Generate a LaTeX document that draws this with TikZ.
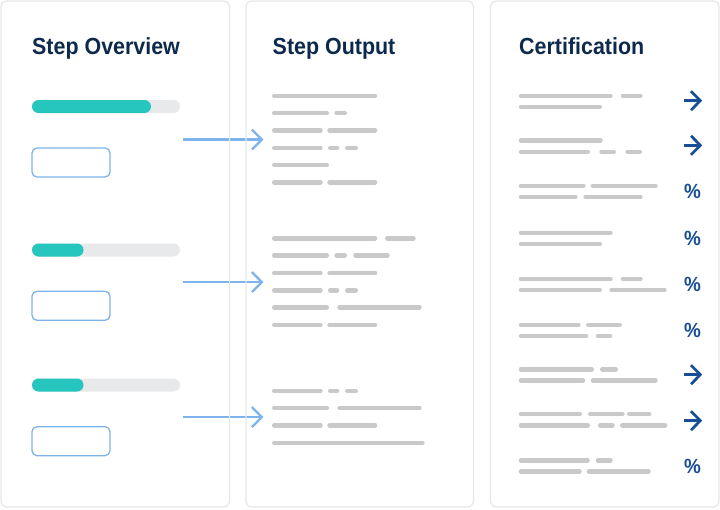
\documentclass[tikz,border=0pt]{standalone}
\usepackage{fontspec}
\setmainfont{Liberation Sans}
\usetikzlibrary{arrows.meta}
\definecolor{navy}{HTML}{0D2A4C}
\definecolor{iconblue}{HTML}{174E96}
\definecolor{teal}{HTML}{26C6BF}
\definecolor{track}{HTML}{E8E9EA}
\definecolor{lblue}{HTML}{7DB4EC}
\definecolor{gbarc}{HTML}{C9C9C9}
\definecolor{panelc}{HTML}{E6E7E8}
\newcommand\grow[2]{\foreach \a/\b in {#2} {\draw[gbar] (\a+2.2,#1) -- (\b-2.2,#1);}}
\newcommand\iconarrow[2]{\draw[icon] (684,#2) -- (700,#2); \draw[icon] (691,#2-9.5) -- (700.3,#2) -- (691,#2+9.5); \coordinate (#1) at (692,#2);}
\begin{document}
\begin{tikzpicture}[x=1pt,y=-1pt,
  panel/.style={draw=panelc,line width=1.2pt,rounded corners=6pt},
  title/.style={anchor=base west,inner sep=0pt,text=navy,font=\bfseries\fontsize{23.3}{24}\selectfont},
  gbar/.style={draw=gbarc,line width=4.4pt,line cap=round},
  outbox/.style={draw=lblue,line width=1.3pt,rounded corners=5pt,minimum width=78pt,minimum height=29pt,inner sep=0pt},
  conn/.style={draw=lblue,line width=2.3pt,-{Straight Barb[length=10pt,width=20pt,line width=2.3pt]}},
  icon/.style={draw=iconblue,line width=2.7pt,line cap=butt,line join=miter},
  pct/.style={inner sep=0pt,text=iconblue,font=\bfseries\fontsize{20.5}{20.5}\selectfont}]
\useasboundingbox (0,0) rectangle (720,509);
\fill[white] (0,0) rectangle (720,509);

% connectors (drawn beneath panel borders)
\coordinate (a1s) at (183,139.5); \coordinate (a1e) at (263.5,139.5);
\coordinate (a2s) at (183,282);   \coordinate (a2e) at (263.5,282);
\coordinate (a3s) at (183,417);   \coordinate (a3e) at (263.5,417);
\draw[conn] (a1s) -- (a1e);
\draw[conn] (a2s) -- (a2e);
\draw[conn] (a3s) -- (a3e);

% panels
\draw[panel] (1,1) rectangle (229.5,507);
\draw[panel] (246,1) rectangle (473.5,507);
\draw[panel] (490.5,1) rectangle (719,507);

% titles
\node[title] (t1) at (32,54.3) {\scalebox{0.92}[1]{Step Overview}};
\node[title] (t2) at (272.5,54.3) {\scalebox{0.92}[1]{Step Output}};
\node[title] (t3) at (519,54.3) {\scalebox{0.92}[1]{Certification}};

% progress bars
\fill[track,rounded corners=6.5pt] (32,100) rectangle (180,113);
\fill[teal,rounded corners=6.5pt] (32,100) rectangle (151,113);
\fill[track,rounded corners=6.5pt] (32,243.5) rectangle (180,256.5);
\fill[teal,rounded corners=6.5pt] (32,243.5) rectangle (83.5,256.5);
\fill[track,rounded corners=6.5pt] (32,378.5) rectangle (180,391.5);
\fill[teal,rounded corners=6.5pt] (32,378.5) rectangle (83.5,391.5);

% outline boxes
\node[outbox] (b1) at (71,162.5) {};
\node[outbox] (b2) at (71,305.8) {};
\node[outbox] (b3) at (71,441.2) {};

% middle column, group 1
\grow{95.7}{272/377.3}
\grow{113}{272/329,334.3/347}
\grow{130.3}{272/322.7,327.3/377.3}
\grow{147.7}{272/322.7,328/339.3,345/358}
\grow{165}{272/329}
\grow{182.3}{272/322.7,327.3/377.3}
% group 2
\grow{238.3}{272/377.3,385/415.7}
\grow{255.3}{272/329,334.3/347,353.3/389.7}
\grow{273}{272/322.7,327.3/377.3}
\grow{290.3}{272/322.7,328/339.3,345/358}
\grow{307.3}{272/329,337.3/421.7}
\grow{325}{272/322.7,327.3/377.3}
% group 3
\grow{391}{272/322.7,328/339.3,345/358}
\grow{408}{272/329,337.3/421.7}
\grow{425.3}{272/322.7,327.3/377.3}
\grow{442.7}{272/424.7}

% right column
\grow{95.7}{518.7/612.7,620.7/642.7}
\grow{106.7}{518.7/602}
\grow{140.3}{518.7/602.7}
\grow{151.7}{518.7/590,599.3/616,625.3/642}
\grow{185.7}{518.7/585.7,590.7/657.7}
\grow{196.7}{518.7/577.7,583.3/642.7}
\grow{232.7}{518.7/612.7}
\grow{243.7}{518.7/602}
\grow{279}{518.7/612.7,620.7/642.7}
\grow{290}{518.7/602,609.3/666.7}
\grow{324.7}{518.7/580.7,586/622}
\grow{336}{518.7/588.3,595.7/612.3}
\grow{369.3}{518.7/594,600/618}
\grow{380.3}{518.7/585.3,590.7/657.7}
\grow{414}{518.7/582,588/624.7,627/651.3}
\grow{425.3}{518.7/590,598/614.7,620/667.3}
\grow{460.3}{518.7/589.7,595.7/612.7}
\grow{471.3}{518.7/581.7,586.7/650.7}

% icons
\iconarrow{i1}{100.7}
\iconarrow{i2}{145.3}
\node[pct] (p3) at (692.5,191.7) {\scalebox{0.92}[1]{\%}};
\node[pct] (p4) at (692.5,238.7) {\scalebox{0.92}[1]{\%}};
\node[pct] (p5) at (692.5,284) {\scalebox{0.92}[1]{\%}};
\node[pct] (p6) at (692.5,330) {\scalebox{0.92}[1]{\%}};
\iconarrow{i7}{374.7}
\iconarrow{i8}{420.7}
\node[pct] (p9) at (692.5,466.5) {\scalebox{0.92}[1]{\%}};
\end{tikzpicture}
\end{document}
